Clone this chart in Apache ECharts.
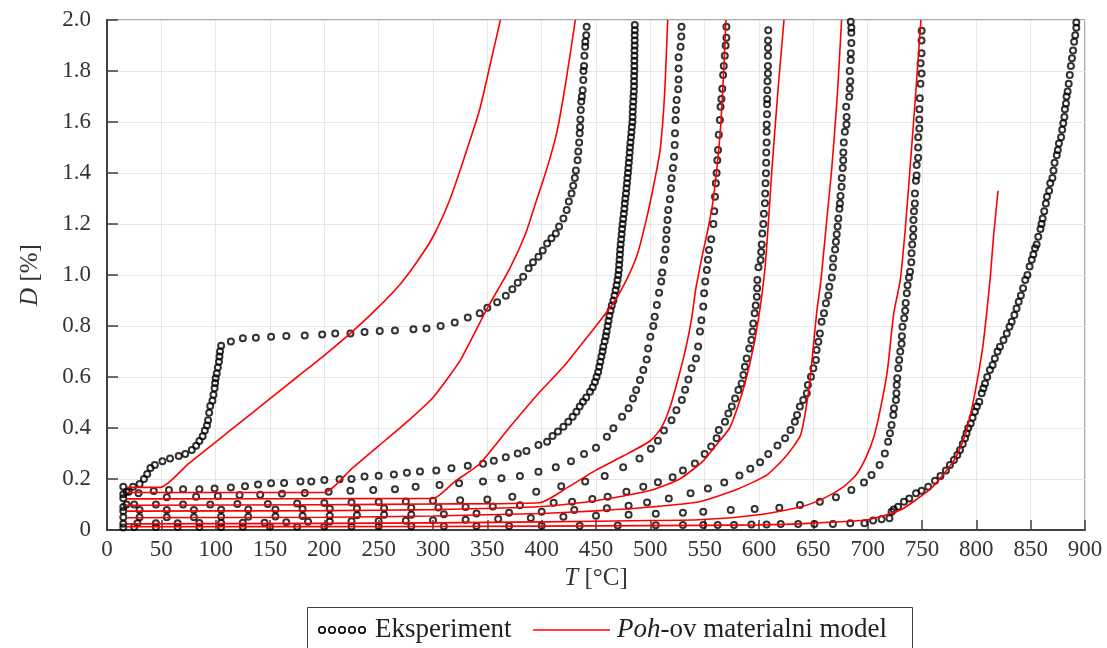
<!DOCTYPE html>
<html>
<head>
<meta charset="utf-8">
<script src="https://cdn.jsdelivr.net/npm/echarts@6/dist/echarts.min.js"></script>
<style>
  html, body { margin: 0; padding: 0; background: #ffffff; }
  #chart { width: 1107px; height: 648px; }
</style>
</head>
<body>
<div id="chart"></div>
<script>
// Axis ranges (temperature T in °C, deformation D in %)
const tMin = 0, tMax = 900, tStep = 50;
const dMin = 0, dMax = 2.0, dStep = 0.2;

// Measured deformation vs. temperature, one array per test: [T, D]
const expA = [[15,0.17],[18,0.15],[24,0.17],[30,0.18],[34,0.2],[37,0.22],[40,0.243],[44,0.255],[51,0.27],[58,0.28],[66,0.29],[72,0.298],[78,0.314],[82,0.33],[85,0.349],[88,0.368],[90,0.39],[92,0.41],[93,0.43],[94,0.46],[95,0.486],[97,0.507],[98,0.53],[99,0.556],[99.5,0.576],[100,0.595],[101,0.614],[102,0.637],[103,0.66],[103.5,0.68],[104,0.7],[105,0.723],[114,0.739],[125,0.752],[137,0.754],[151,0.758],[165,0.761],[182,0.763],[198,0.767],[210,0.771],[224,0.771],[237,0.776],[251,0.78],[265,0.782],[282,0.787],[294,0.79],[307,0.8],[320,0.814],[332,0.833],[343,0.85],[350,0.872],[359,0.893],[367,0.919],[373,0.944],[378,0.97],[383,0.993],[388,1.026],[392,1.05],[397,1.072],[401,1.096],[405,1.124],[409,1.144],[413,1.163],[416,1.19],[420,1.222],[423,1.255],[425,1.288],[427.5,1.32],[429,1.35],[430.5,1.38],[431.5,1.41],[433,1.45],[433.7,1.484],[434.5,1.52],[435,1.556],[435.3,1.58],[435.6,1.61],[436,1.647],[436.5,1.68],[437,1.7],[437.7,1.725],[438.3,1.765],[438.5,1.8],[439,1.82],[439.3,1.86],[440,1.895],[440.2,1.915],[441,1.94],[441.4,1.974]];

const expB = [[15,0.14],[20,0.15],[43,0.153],[57,0.157],[70,0.16],[85,0.16],[99,0.163],[114,0.167],[127,0.172],[139,0.178],[151,0.183],[163,0.184],[178,0.19],[188,0.19],[200,0.196],[214,0.199],[225,0.2],[237,0.21],[250,0.213],[264,0.218],[276,0.225],[288,0.229],[303,0.233],[317,0.242],[332,0.252],[346,0.26],[356,0.272],[367,0.285],[378,0.3],[386,0.31],[397,0.333],[405,0.346],[410,0.369],[415,0.386],[420,0.405],[424.5,0.425],[428.5,0.444],[432,0.464],[435,0.484],[438,0.503],[441,0.52],[444.5,0.542],[447,0.56],[449,0.58],[450.5,0.6],[452,0.62],[453,0.64],[454,0.66],[455,0.68],[456,0.7],[456.7,0.719],[458,0.74],[459,0.76],[459.8,0.778],[460.7,0.8],[461.5,0.82],[462.3,0.84],[463.4,0.86],[464.5,0.88],[466,0.9],[467,0.92],[468,0.94],[469,0.96],[469.8,0.98],[470.5,1.0],[471,1.02],[471.3,1.04],[471.7,1.06],[472,1.08],[472.3,1.1],[472.7,1.12],[473.2,1.14],[473.6,1.16],[474,1.18],[474.5,1.2],[475,1.22],[475.6,1.24],[476.1,1.26],[476.5,1.28],[477,1.3],[477.6,1.32],[478,1.34],[478.5,1.36],[478.9,1.38],[479.4,1.4],[479.8,1.42],[480.2,1.44],[480.6,1.46],[481,1.48],[481.3,1.5],[481.7,1.52],[482.2,1.54],[482.6,1.56],[483,1.58],[483.5,1.6],[483.7,1.62],[483.8,1.64],[484,1.66],[484.3,1.68],[484.5,1.7],[484.8,1.72],[485,1.74],[485,1.76],[485.1,1.78],[485.3,1.8],[485.3,1.82],[485.3,1.84],[485.4,1.86],[485.4,1.88],[485.6,1.9],[485.6,1.92],[485.6,1.94],[485.7,1.96],[485.7,1.98]];

const expC = [[15,0.125],[29,0.144],[55,0.128],[82,0.13],[102,0.133],[122,0.137],[141,0.138],[161,0.142],[182,0.145],[204,0.15],[224,0.154],[245,0.157],[265,0.16],[284,0.17],[306,0.176],[324,0.183],[346,0.19],[363,0.203],[380,0.212],[397,0.228],[413,0.246],[427,0.27],[439,0.298],[450,0.323],[460,0.366],[466,0.399],[474,0.444],[480,0.477],[484,0.516],[487,0.549],[490.5,0.588],[493.5,0.627],[496.6,0.669],[498,0.712],[500,0.758],[502.7,0.8],[504,0.836],[506,0.882],[508,0.93],[510,0.975],[511,1.01],[512.6,1.06],[514,1.1],[514.6,1.14],[515,1.176],[515.8,1.216],[516.5,1.255],[518,1.297],[519,1.34],[519.6,1.379],[520.8,1.42],[521.8,1.464],[522.4,1.51],[522.7,1.556],[523.2,1.608],[523.6,1.647],[524.2,1.686],[525.7,1.728],[526,1.767],[526,1.81],[526,1.854],[527.8,1.895],[528.5,1.935],[528.7,1.974]];

const expD = [[15,0.09],[18,0.1],[25,0.1],[45,0.1],[70,0.1],[95,0.1],[120,0.102],[148,0.102],[175,0.104],[200,0.106],[225,0.108],[250,0.11],[275,0.112],[300,0.115],[325,0.117],[350,0.12],[373,0.13],[395,0.15],[418,0.172],[440,0.19],[458,0.212],[475,0.246],[490,0.28],[500.5,0.319],[507,0.35],[512.5,0.39],[519.5,0.43],[524,0.47],[529,0.51],[532,0.55],[535,0.59],[538,0.634],[542,0.673],[544,0.72],[545.7,0.778],[547,0.823],[548.7,0.876],[549.5,0.928],[550.5,0.975],[552,1.02],[553,1.06],[554,1.098],[556,1.14],[558,1.2],[558.8,1.25],[559.5,1.307],[560.3,1.36],[561,1.4],[561.6,1.45],[562.3,1.49],[563,1.55],[564,1.608],[564.6,1.66],[565.4,1.69],[566.2,1.73],[567,1.784],[567.6,1.82],[568.5,1.86],[569.3,1.9],[570,1.93],[570,1.974]];

const expE = [[15,0.075],[30,0.078],[55,0.078],[80,0.078],[105,0.079],[130,0.08],[155,0.08],[180,0.082],[205,0.083],[230,0.084],[255,0.085],[280,0.087],[305,0.088],[330,0.09],[355,0.092],[380,0.097],[411,0.107],[428,0.111],[446.6,0.122],[460.7,0.13],[478,0.15],[493.5,0.17],[507,0.187],[520.5,0.207],[530,0.233],[541,0.261],[550,0.298],[556,0.327],[561,0.36],[563,0.392],[568.7,0.425],[571.8,0.457],[575,0.484],[578,0.516],[581,0.549],[584,0.575],[585.6,0.608],[587,0.64],[588.6,0.673],[591,0.712],[593,0.745],[594,0.778],[594.7,0.81],[596,0.85],[597,0.88],[598,0.915],[598.3,0.948],[598.5,0.98],[599.5,1.03],[601.5,1.059],[602,1.09],[602.5,1.12],[603,1.163],[604,1.2],[604.5,1.24],[605.5,1.281],[605.7,1.32],[606,1.36],[606.4,1.399],[606.6,1.44],[606.7,1.48],[607,1.52],[607,1.562],[607.1,1.59],[607.4,1.63],[607.4,1.67],[607.5,1.69],[607.6,1.725],[607.8,1.76],[608.2,1.79],[608.2,1.82],[608.2,1.86],[608.3,1.89],[608.3,1.92],[608.5,1.96]];

const expF = [[15,0.05],[30,0.05],[55,0.05],[80,0.05],[105,0.052],[130,0.052],[155,0.053],[180,0.055],[205,0.056],[230,0.058],[255,0.06],[280,0.06],[310,0.062],[340,0.065],[370,0.068],[400,0.072],[430,0.078],[460,0.085],[480,0.095],[497,0.108],[517,0.124],[537,0.144],[553,0.163],[568,0.186],[582,0.214],[592,0.24],[601,0.266],[608.5,0.298],[617,0.331],[624,0.36],[629,0.392],[633,0.425],[635,0.451],[637.6,0.484],[640.7,0.51],[644,0.536],[645,0.569],[647.8,0.601],[650,0.634],[652.4,0.667],[653,0.706],[654.6,0.738],[656,0.771],[657.6,0.817],[659.8,0.85],[661.6,0.889],[663.8,0.92],[664.7,0.954],[667,0.99],[668,1.03],[668.3,1.065],[670,1.1],[670.8,1.13],[671.5,1.16],[672.3,1.19],[673,1.222],[674,1.26],[674.5,1.28],[675,1.31],[676,1.346],[676.2,1.38],[677,1.42],[677.5,1.45],[677.6,1.48],[678,1.52],[679,1.562],[680.5,1.59],[680.6,1.62],[680.2,1.66],[683,1.699],[683.5,1.73],[684,1.76],[683.5,1.8],[684.4,1.843],[684.5,1.87],[685,1.91],[685,1.95],[685,1.97],[684.4,1.993]];

const expG = [[15,0.025],[28,0.026],[45,0.026],[65,0.026],[85,0.027],[105,0.027],[125,0.028],[145,0.028],[165,0.03],[185,0.032],[205,0.033],[225,0.034],[250,0.035],[275,0.036],[300,0.038],[330,0.04],[360,0.043],[390,0.047],[420,0.052],[450,0.056],[480,0.06],[505,0.064],[530,0.068],[548.7,0.072],[574,0.078],[596,0.082],[618.7,0.087],[637.7,0.098],[656,0.111],[670.8,0.128],[685,0.157],[696.6,0.186],[703.6,0.216],[711,0.255],[715.8,0.3],[718.8,0.346],[720.5,0.379],[722,0.412],[723.6,0.451],[724.2,0.477],[726,0.51],[726.5,0.536],[726.7,0.569],[727.2,0.595],[728.2,0.634],[729,0.667],[730,0.7],[731.2,0.73],[731.5,0.76],[732,0.797],[733.6,0.83],[734.5,0.86],[735,0.89],[736,0.928],[736.7,0.96],[738,0.99],[739,1.013],[740.2,1.05],[740.4,1.085],[741,1.12],[741.8,1.15],[742,1.18],[742.1,1.216],[742.6,1.25],[743.4,1.28],[743.5,1.32],[744.4,1.37],[745,1.39],[745.1,1.431],[746.4,1.46],[746.4,1.5],[746.5,1.54],[747.5,1.575],[747.5,1.61],[747.6,1.65],[748,1.693],[748.6,1.75],[749.6,1.79],[748.7,1.83],[749.6,1.87],[749.6,1.92],[749.7,1.958]];

const expH = [[15,0.01],[25,0.012],[45,0.012],[65,0.012],[85,0.012],[105,0.012],[125,0.013],[150,0.013],[175,0.013],[200,0.014],[225,0.014],[250,0.015],[280,0.015],[310,0.015],[340,0.016],[370,0.016],[400,0.017],[435,0.017],[470,0.018],[505,0.019],[530,0.02],[548.7,0.02],[562,0.02],[577,0.02],[593,0.022],[607,0.022],[620,0.024],[636,0.024],[651,0.024],[668,0.024],[684,0.026],[697,0.026],[705,0.037],[712.8,0.042],[720,0.046],[722,0.072],[724,0.08],[728,0.091],[733.4,0.111],[738.3,0.124],[744.5,0.144],[749.6,0.154],[755.7,0.17],[762,0.193],[767,0.212],[772,0.233],[775.7,0.255],[779.4,0.275],[782.5,0.294],[785,0.314],[787.5,0.337],[789.6,0.36],[791,0.379],[792.6,0.4],[794.8,0.418],[796.5,0.44],[798.7,0.464],[800.5,0.484],[802.7,0.503],[805,0.536],[806.5,0.556],[808,0.575],[810,0.6],[812.5,0.627],[815,0.647],[817,0.673],[819.5,0.7],[821.7,0.719],[825,0.745],[828,0.771],[830.5,0.797],[832.5,0.817],[835,0.843],[837,0.869],[839,0.895],[841,0.92],[843,0.948],[845,0.98],[847,1.0],[849,1.033],[851,1.06],[852.5,1.08],[854,1.105],[855.5,1.12],[857,1.15],[859,1.18],[860,1.2],[861,1.222],[862.5,1.25],[864,1.28],[865,1.307],[867,1.33],[868,1.36],[870,1.38],[871,1.41],[872,1.44],[874,1.47],[875,1.49],[876,1.516],[878,1.54],[879,1.57],[880,1.595],[881,1.62],[881.5,1.65],[882.5,1.673],[883,1.7],[884,1.72],[885,1.75],[886,1.784],[887,1.82],[888,1.85],[889,1.88],[890,1.915],[891,1.94],[892,1.97],[892,1.99]];

// Poh material model curves, one per test: [T, D]
const modA = [[18,0.167],[49,0.167],[75,0.26],[100,0.345],[125,0.43],[150,0.515],[175,0.6],[200,0.685],[225,0.775],[250,0.875],[270,0.965],[285,1.05],[300,1.15],[315,1.29],[328,1.45],[343,1.65],[355,1.87],[362,2.0]];
const modB = [[18,0.147],[200,0.147],[225,0.24],[250,0.33],[275,0.42],[300,0.52],[325,0.665],[350,0.87],[370,1.02],[385,1.16],[395,1.29],[405,1.42],[414,1.56],[422,1.75],[431,2.0]];
const modC = [[18,0.122],[300,0.124],[320,0.19],[343,0.26],[370,0.4],[398,0.54],[420,0.64],[435,0.72],[450,0.8],[466,0.89],[478,0.98],[488,1.08],[497,1.23],[503,1.35],[509,1.49],[513,1.7],[516,2.0]];
const modD = [[18,0.097],[200,0.099],[300,0.102],[398,0.107],[425,0.17],[450,0.235],[475,0.29],[500,0.35],[510,0.4],[518,0.48],[526,0.6],[533,0.72],[538,0.83],[542,0.95],[548,1.08],[554,1.2],[558,1.3],[562,1.45],[565,1.6],[567.5,1.8],[569.6,2.0]];
const modE = [[18,0.074],[200,0.076],[300,0.08],[400,0.092],[450,0.115],[500,0.155],[527,0.2],[548,0.268],[560,0.33],[573,0.4],[581,0.49],[588,0.59],[595,0.72],[601,0.87],[606,1.05],[612,1.42],[617,1.7],[623,2.0]];
const modF = [[18,0.048],[200,0.05],[300,0.055],[400,0.065],[450,0.075],[500,0.09],[545,0.111],[580,0.16],[607,0.215],[625,0.29],[638,0.37],[643,0.47],[647,0.59],[653,0.85],[657,0.98],[662,1.2],[667,1.42],[672,1.7],[676,2.0]];
const modG = [[18,0.024],[200,0.026],[300,0.028],[400,0.032],[500,0.037],[545,0.04],[600,0.06],[638,0.09],[660,0.125],[678,0.17],[690,0.22],[699,0.29],[706,0.37],[711,0.46],[718,0.62],[724,0.85],[730,0.98],[735,1.2],[739,1.42],[744,1.7],[749,2.0]];
const modH = [[18,0.013],[300,0.014],[500,0.017],[600,0.02],[650,0.027],[700,0.04],[730,0.078],[745,0.12],[760,0.17],[770,0.22],[779,0.27],[786,0.33],[791,0.39],[796,0.48],[801,0.59],[806,0.72],[810,0.87],[813,1.0],[816,1.16],[820,1.33]];

// Legend captions
const legendExp = 'Eksperiment';
const legendModelItalic = 'Poh';
const legendModelRest = '-ov materialni model';

const experiments = [expA, expB, expC, expD, expE, expF, expG, expH];
const models = [modA, modB, modC, modD, modE, modF, modG, modH];

const FONT = "'Liberation Serif', 'Times New Roman', serif";
const AXIS_COLOR = '#404040';
const TEXT_COLOR = '#333333';

const chart = echarts.init(document.getElementById('chart'), null, { renderer: 'canvas' });

const series = [];
experiments.forEach(function (d) {
  series.push({
    type: 'scatter',
    name: legendExp,
    data: d,
    symbol: 'circle',
    symbolSize: 6,
    itemStyle: { color: 'rgba(0,0,0,0)', borderColor: '#000000', borderWidth: 2 },
    z: 3,
    silent: true
  });
});
models.forEach(function (d) {
  series.push({
    type: 'line',
    name: legendModelItalic + legendModelRest,
    data: d,
    showSymbol: false,
    smooth: 0.2,
    lineStyle: { color: '#ff0000', width: 1.6 },
    z: 4,
    silent: true
  });
});

// Legend box with a five-ring marker and a red stroke
const legendY = 630;
const ringXs = [322, 332, 342, 352, 362];
const legendChildren = [
  { type: 'rect', shape: { x: 307.5, y: 607.5, width: 605, height: 60 },
    style: { fill: '#ffffff', stroke: AXIS_COLOR, lineWidth: 1 } }
];
ringXs.forEach(function (cx) {
  legendChildren.push({ type: 'circle', shape: { cx: cx, cy: legendY, r: 3.2 },
    style: { fill: 'none', stroke: '#000000', lineWidth: 1.6 } });
});
legendChildren.push(
  { type: 'text', x: 375, y: legendY,
    style: { text: legendExp, font: "27px " + FONT, fill: '#222222', verticalAlign: 'middle' } },
  { type: 'line', shape: { x1: 533, y1: legendY, x2: 610, y2: legendY },
    style: { stroke: '#ff0000', lineWidth: 1.6 } },
  { type: 'text', x: 617, y: legendY,
    style: { text: '{i|' + legendModelItalic + '}' + legendModelRest,
      font: "27px " + FONT, fill: '#222222', verticalAlign: 'middle',
      rich: { i: { fontStyle: 'italic', fontFamily: FONT, fontSize: 27, fill: '#222222' } } } }
);

const option = {
  animation: false,
  backgroundColor: '#ffffff',
  grid: {
    left: 107, right: 22, top: 20, bottom: 118,
    show: true, borderColor: '#505050', borderWidth: 1, backgroundColor: 'transparent'
  },
  xAxis: {
    type: 'value', min: tMin, max: tMax, interval: tStep,
    name: '{i|T} [°C]', nameLocation: 'middle', nameGap: 36,
    nameTextStyle: {
      fontFamily: FONT, fontSize: 25, color: TEXT_COLOR,
      rich: { i: { fontStyle: 'italic', fontFamily: FONT, fontSize: 25, color: TEXT_COLOR } }
    },
    axisLine: { show: true, onZero: false, lineStyle: { color: AXIS_COLOR, width: 2 } },
    axisTick: { show: true, inside: true, length: 10, lineStyle: { color: AXIS_COLOR, width: 1.5 } },
    axisLabel: { fontFamily: FONT, fontSize: 23, color: TEXT_COLOR, margin: 8 },
    splitLine: { show: true, lineStyle: { color: '#e6e6e6', width: 1 } }
  },
  yAxis: {
    type: 'value', min: dMin, max: dMax, interval: dStep,
    name: '{i|D} [%]', nameLocation: 'middle', nameGap: 64, nameRotate: 90,
    nameTextStyle: {
      fontFamily: FONT, fontSize: 25, color: TEXT_COLOR,
      rich: { i: { fontStyle: 'italic', fontFamily: FONT, fontSize: 25, color: TEXT_COLOR } }
    },
    axisLine: { show: true, onZero: false, lineStyle: { color: AXIS_COLOR, width: 2 } },
    axisTick: { show: true, inside: true, length: 11, lineStyle: { color: AXIS_COLOR, width: 1.5 } },
    axisLabel: {
      fontFamily: FONT, fontSize: 23, color: TEXT_COLOR, margin: 16,
      formatter: function (v) { return v === 0 ? '0' : v.toFixed(1); }
    },
    splitLine: { show: true, lineStyle: { color: '#e6e6e6', width: 1 } }
  },
  series: series,
  graphic: [{ type: 'group', children: legendChildren }]
};

chart.setOption(option);
</script>
</body>
</html>
